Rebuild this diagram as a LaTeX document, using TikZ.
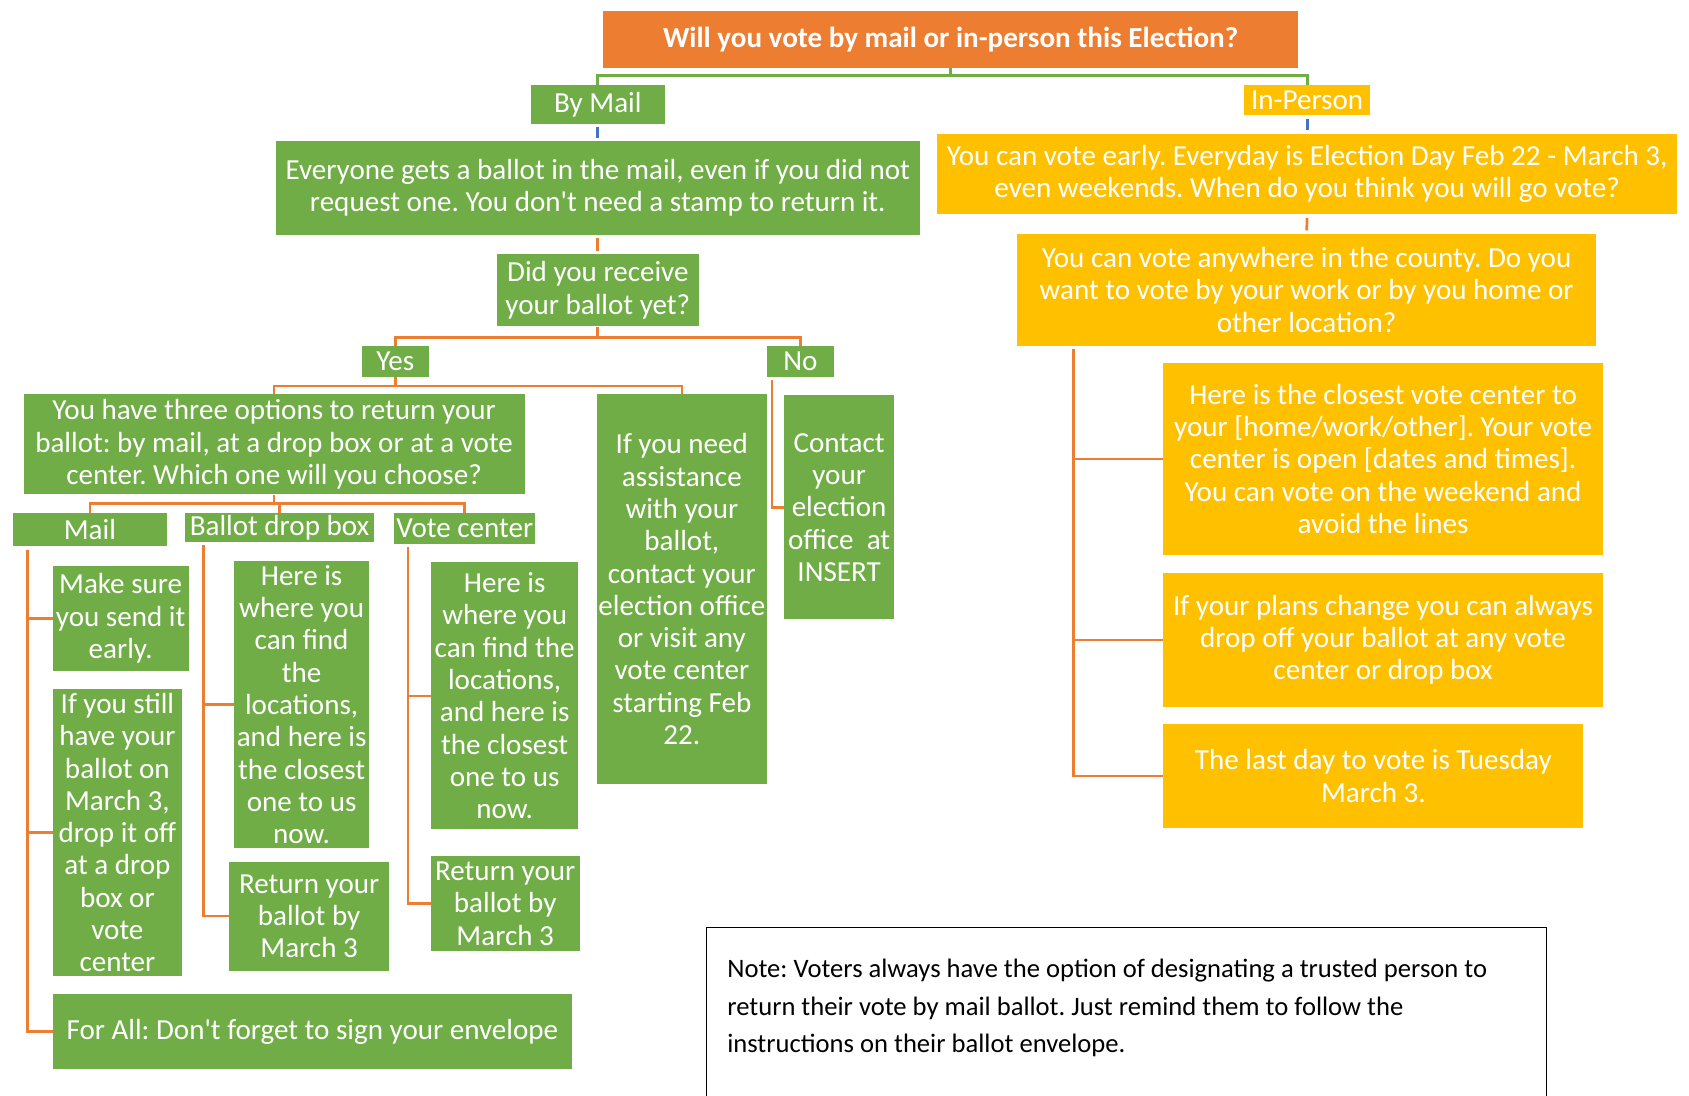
\documentclass[tikz,border=0pt]{standalone}
\usepackage{fontspec}
\setmainfont{Carlito}
\usepackage{tikz}
\usetikzlibrary{positioning}
\definecolor{mailgreen}{HTML}{70AD47}
\definecolor{voteorange}{HTML}{ED7D31}
\definecolor{personyellow}{HTML}{FFC000}
\definecolor{linkblue}{HTML}{4472C4}
\tikzset{boxsize/.style 2 args={minimum width=#1pt, minimum height=#2pt}}
\frenchspacing

\begin{document}
\begin{tikzpicture}[x=1pt, y=-1pt]
	\tikzstyle{gbox} = [fill=mailgreen, text=white, align=center, inner sep=0pt, font=\fontsize{27}{30}\selectfont]
	\tikzstyle{ybox} = [gbox, fill=personyellow]
	\tikzstyle{obox} = [gbox, fill=voteorange, font=\fontsize{27}{30}\selectfont\bfseries]
	\tikzstyle{link} = [line width=2.5pt]
	\tikzstyle{stub} = [link, shorten <=3pt, shorten >=3pt]
	\tikzstyle{branch} = [link, draw=voteorange, shorten <=3pt]
	\useasboundingbox (0,0) rectangle (1568,1017);
	\path
	node[obox, boxsize={645}{53}] (title) at (882.5,36.5) {Will you vote by mail or in-person this Election?}
	node[gbox, boxsize={124}{36}] (bymail) at (555,97) {By Mail}
	node[ybox, boxsize={117}{28}] (inperson) at (1213.5,93) {In-Person}
	;
	\draw[link, draw=mailgreen] (title.south) -- ++(0,7) -| (bymail.north);
	\draw[link, draw=mailgreen] (title.south) ++(0,7) -| (inperson.north);
	\begin{scope}
	  \path
	  node[gbox, boxsize={598}{87}] (everyone) at (555,174.5) {Everyone gets a ballot in the mail, even if you did not\\request one. You don\textquotesingle t need a stamp to return it.}
	  node[gbox, boxsize={188}{67}] (received) at (555,269.5) {Did you receive\\your ballot yet?}
	  node[gbox, boxsize={62}{29}] (yes) at (367,335.5) {Yes}
	  node[gbox, boxsize={62}{29}] (no) at (743,335.5) {No}
	  node[gbox, boxsize={465}{93}] (three) at (254.5,412.5) {You have three options to return your\\ballot: by mail, at a drop box or at a vote\\center. Which one will you choose?}
	  node[gbox, boxsize={158}{362}] (assist) at (633,547) {If you need\\assistance\\with your\\ballot,\\contact your\\election office\\or visit any\\vote center\\starting Feb\\22.}
	  node[gbox, boxsize={102}{208}] (contact) at (779,471) {Contact\\your\\election\\office\ \ at\\INSERT}
	  node[gbox, boxsize={143}{31}] (mail) at (83.5,491.5) {Mail}
	  node[gbox, boxsize={175}{27}] (dropbox) at (259.5,489.5) {Ballot drop box}
	  node[gbox, boxsize={131}{29}] (votecenter) at (431.5,490.5) {Vote center}
	  node[gbox, boxsize={126}{98}] (makesure) at (112,574) {Make sure\\you send it\\early.}
	  node[gbox, boxsize={120}{266}] (stillhave) at (109,773) {If you still\\have your\\ballot on\\March 3,\\drop it off\\at a drop\\box or\\vote\\center}
	  node[gbox, boxsize={482}{69}] (forall) at (290,957.5) {For All: Don\textquotesingle t forget to sign your envelope}
	  node[gbox, boxsize={126}{266}] (dropwhere) at (280,654) {Here is\\where you\\can find\\the\\locations,\\and here is\\the closest\\one to us\\now.}
	  node[gbox, boxsize={148}{101}] (dropreturn) at (287,850.5) {Return your\\ballot by\\March 3}
	  node[gbox, boxsize={137}{248}] (centerwhere) at (468.5,646) {Here is\\where you\\can find the\\locations,\\and here is\\the closest\\one to us\\now.}
	  node[gbox, boxsize={138}{88}] (centerreturn) at (469,839) {Return your\\ballot by\\March 3}
	  ;
	  \draw[stub, draw=linkblue] (bymail.south) -- (everyone.north);
	  \draw[stub, draw=voteorange] (everyone.south) -- (received.north);
	  \draw[link, draw=voteorange] (received.south) -- ++(0,10) -| (yes.north);
	  \draw[link, draw=voteorange] (received.south) ++(0,10) -| (no.north);
	  \draw[link, draw=voteorange] (yes.south) -- ++(0,8) -| (three.north);
	  \draw[link, draw=voteorange] (yes.south) ++(0,8) -| (assist.north);
	  \draw[branch] ([xshift=5pt]no.south west) |- (contact.west);
	  \draw[link, draw=voteorange] (three.south) -- ++(0,8) -| (mail.north);
	  \draw[link, draw=voteorange] (three.south) ++(0,8) -| (dropbox.north);
	  \draw[link, draw=voteorange] (three.south) ++(0,8) -| (votecenter.north);
	  \draw[branch] ([xshift=14pt]mail.south west) |- (forall.west);
	  \draw[branch] ([xshift=14pt]mail.south west) |- (stillhave.west);
	  \draw[branch] ([xshift=14pt]mail.south west) |- (makesure.west);
	  \draw[branch] ([xshift=17pt]dropbox.south west) |- (dropreturn.west);
	  \draw[branch] ([xshift=17pt]dropbox.south west) |- (dropwhere.west);
	  \draw[branch] ([xshift=13pt]votecenter.south west) |- (centerreturn.west);
	  \draw[branch] ([xshift=13pt]votecenter.south west) |- (centerwhere.west);
	\end{scope}
	\begin{scope}
	  \path
	  node[ybox, boxsize={687}{75}] (early) at (1213.5,161.5) {You can vote early. Everyday is Election Day Feb 22 - March 3,\\even weekends. When do you think you will go vote?}
	  node[ybox, boxsize={538}{104}] (anywhere) at (1213,269) {You can vote anywhere in the county. Do you\\want to vote by your work or by you home or\\other location?}
	  node[ybox, boxsize={408}{178}] (closest) at (1284,426) {Here is the closest vote center to\\your [home/work/other]. Your vote\\center is open [dates and times].\\You can vote on the weekend and\\avoid the lines}
	  node[ybox, boxsize={408}{124}] (plans) at (1284,594) {If your plans change you can always\\drop off your ballot at any vote\\center or drop box}
	  node[ybox, boxsize={390}{97}] (lastday) at (1275,720.5) {The last day to vote is Tuesday\\March 3.}
	  ;
	  \draw[stub, draw=linkblue] (inperson.south) -- (early.north);
	  \draw[stub, draw=voteorange] (early.south) -- (anywhere.north);
	  \draw[branch] ([xshift=53pt]anywhere.south west) |- (lastday.west);
	  \draw[branch] ([xshift=53pt]anywhere.south west) |- (plans.west);
	  \draw[branch] ([xshift=53pt]anywhere.south west) |- (closest.west);
	\end{scope}
	\draw[line width=1.2pt] (656,1040) |- (1436,861) -- (1436,1040);
	\node[anchor=north west, align=left, inner sep=0pt, font=\fontsize{24.7}{35}\selectfont] (note) at (675,890) {Note: Voters always have the option of designating a trusted person to\\return their vote by mail ballot. Just remind them to follow the\\instructions on their ballot envelope.};
\end{tikzpicture}
\end{document}
